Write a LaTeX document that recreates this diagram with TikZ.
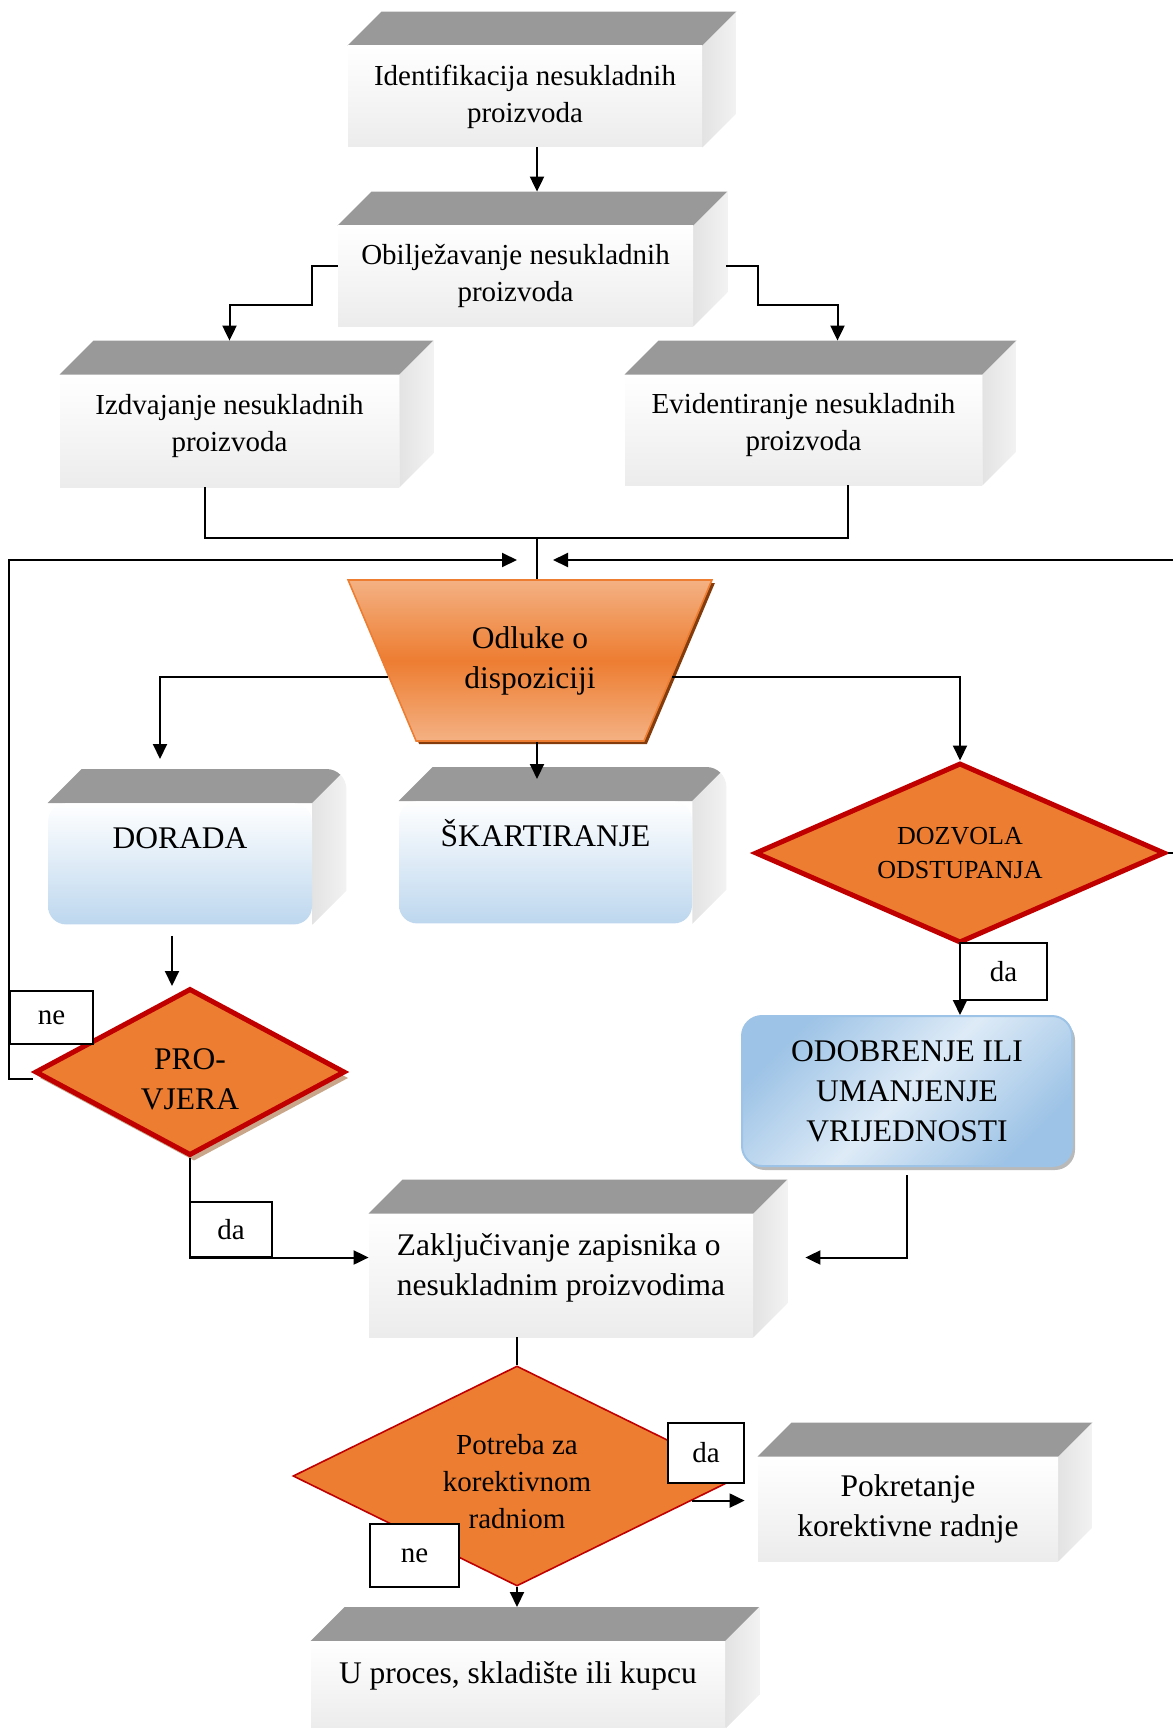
\documentclass[tikz,border=0pt]{standalone}
\usepackage{fontspec}
\setmainfont{Liberation Serif}
\usetikzlibrary{shapes.geometric,arrows.meta,shadows,backgrounds,calc}

\definecolor{narancasta}{HTML}{ED7D31}
\definecolor{svjnaranc}{HTML}{F4B183}
\definecolor{crvena}{HTML}{C00000}
\definecolor{smeda}{HTML}{843C0C}
\definecolor{bez}{HTML}{C9A68A}
\definecolor{krovsiva}{HTML}{999999}
\definecolor{svjplava}{HTML}{BDD7EE}
\definecolor{plava}{HTML}{9DC3E6}
\definecolor{blijedoplava}{HTML}{DEEBF7}

\newcommand{\manji}{\fontsize{14.5pt}{18.5pt}\selectfont}
\newcommand{\veci}{\fontsize{15.75pt}{20pt}\selectfont}
\newcommand{\sitni}{\fontsize{13pt}{17pt}\selectfont}

% gornja i bocna ploha kvadra (iza cvora #2), #1 = vanjski kut
\newcommand{\kvadar}[2][sharp corners]{%
	\begin{scope}[on background layer]
		\begin{scope}
			\clip [#1] ([yshift=17pt]#2.north west) rectangle ([xshift=17pt]#2.south east);
			\fill [krovsiva] (#2.north west) -- ++(34,-34) -- ([shift={(34,-34)}]#2.north east) -- (#2.north east) -- cycle;
			\shade [left color=gray!22,right color=gray!10] (#2.north east) -- ++(34,-34) -- ([shift={(34,-34)}]#2.south east) -- (#2.south east) -- cycle;
		\end{scope}
	\end{scope}
	\coordinate (#2-vrh) at ([yshift=17pt]#2.north);
}

\begin{document}
\begin{tikzpicture}[x=0.5pt,y=-0.5pt,
	prednja/.style={rectangle,inner sep=0pt,top color=white,bottom color=gray!15,align=center,font=\manji},
	plavi/.style={rectangle,rounded corners=9pt,inner sep=0pt,top color=white,bottom color=svjplava,font=\veci},
	romb/.style={diamond,inner sep=0pt,fill=narancasta,draw=crvena,align=center},
	oznaka/.style={rectangle,draw,fill=white,line width=0.8pt,inner sep=0pt,font=\manji},
	strelica/.style={-{Triangle[length=7.5pt,width=7pt]},line width=1pt},
	linija/.style={line width=1pt}]
		\useasboundingbox (0,0) rectangle (1172,1728);
		% Kvadri gore
		\node [prednja,minimum width=177pt,minimum height=50.5pt] (ident) at (525,96.5) {Identifikacija nesukladnih\\proizvoda};
		\kvadar{ident}
		\node [prednja,minimum width=177.5pt,minimum height=50pt] (obilj) at (515.5,276) {Obilježavanje nesukladnih\\proizvoda};
		\kvadar{obilj}
		\node [prednja,minimum width=169.5pt,minimum height=56pt] (izdv) at (229.5,431) {Izdvajanje nesukladnih\\proizvoda\\[-10pt]};
		\kvadar{izdv}
		\node [prednja,minimum width=178.5pt,minimum height=55pt] (evid) at (803.5,430) {Evidentiranje nesukladnih\\proizvoda\\[-10pt]};
		\kvadar{evid}
		% Odluke
		\node [trapezium,trapezium left angle=119.75,trapezium right angle=119.75,trapezium stretches=true,
			minimum width=182pt,minimum height=80.5pt,inner sep=0pt,
			top color=svjnaranc,bottom color=svjnaranc,middle color=narancasta,draw=narancasta,line width=0.8pt,
			drop shadow={shadow xshift=1.5pt,shadow yshift=-1.5pt,fill=smeda,opacity=1},
			align=center,font=\veci] (odluke) at (530,660.5) {Odluke o\\dispoziciji};
		% Dorada, skartiranje
		\node [plavi,anchor=north,minimum width=132pt,text height=22.5pt,text depth=38pt] (dorada) at (180,803) {DORADA};
		\kvadar[rounded corners=10pt]{dorada}
		\node [plavi,anchor=north,minimum width=146.5pt,text height=22.5pt,text depth=38.5pt] (skart) at (545.5,801) {ŠKARTIRANJE};
		\kvadar[rounded corners=10pt]{skart}
		% Rombovi
		\node [romb,minimum width=205pt,minimum height=90pt,shape aspect=2.28,line width=2.5pt,font=\sitni] (dozv) at (960,853) {DOZVOLA\\ODSTUPANJA};
		\node [romb,minimum width=155pt,minimum height=83.5pt,shape aspect=1.86,line width=2.5pt,font=\veci,
			drop shadow={shadow xshift=2pt,shadow yshift=-3pt,fill=bez,opacity=1}] (provj) at (190,1072) {\\[-2.7pt]PRO-\\VJERA};
		% Odobrenje
		\node [rectangle,rounded corners=10pt,minimum width=165pt,minimum height=75pt,inner sep=0pt,
			top color=plava,bottom color=plava,middle color=blijedoplava,shading angle=45,draw=plava,line width=1pt,
			drop shadow={shadow xshift=1.5pt,shadow yshift=-2pt,fill=gray!55,opacity=1},
			align=center,font=\veci] (odob) at (907,1091) {ODOBRENJE ILI\\UMANJENJE\\VRIJEDNOSTI};
		% Zapisnik i dalje
		\node [prednja,font=\veci,align=left,minimum width=192pt,minimum height=61.5pt] (zaklj) at (561,1275.5) {Zaključivanje zapisnika o\\nesukladnim proizvodima\\[-9pt]};
		\kvadar{zaklj}
		\node [romb,minimum width=224pt,minimum height=110pt,shape aspect=2.04,line width=0.8pt,font=\manji] (potr) at (517,1476) {\\[-3pt]Potreba za\\korektivnom\\radniom};
		\node [prednja,font=\veci,minimum width=150pt,minimum height=52pt] (pokret) at (908,1509) {Pokretanje\\korektivne radnje};
		\kvadar{pokret}
		\node [prednja,font=\veci,anchor=north,minimum width=207pt,text height=21pt,text depth=22.5pt] (uproc) at (518,1641) {U proces, skladište ili kupcu};
		\kvadar{uproc}
		% Oznake da/ne
		\node [oznaka,minimum width=41.5pt,minimum height=26.5pt] (ne1) at (51.5,1017.5) {ne};
		\node [oznaka,minimum width=43.5pt,minimum height=28.5pt] (da1) at (1003.5,971.5) {da};
		\node [oznaka,minimum width=41pt,minimum height=27.5pt] (da2) at (231,1229.5) {da};
		\node [oznaka,minimum width=38pt,minimum height=30pt] (da3) at (706,1453) {da};
		\node [oznaka,minimum width=44.5pt,minimum height=31.5pt] (ne2) at (414.5,1555.5) {ne};
		%%%% Veze
		\coordinate (spoj) at (537,538);
		\coordinate (ulazL) at (517,560);
		\coordinate (ulazD) at (553,560);
		\draw [strelica] ([xshift=6pt]ident.south) -- ([xshift=6pt]ident.south |- obilj-vrh);
		\draw [strelica] ([yshift=5pt]obilj.west) -- ++(-26,0) -- ++(0,39) -| (izdv-vrh);
		\draw [strelica] ([xshift=16.5pt,yshift=5pt]obilj.east) -- ++(32,0) -- ++(0,39) -| ([xshift=17pt]evid-vrh);
		\draw [linija] ([xshift=-12.5pt]izdv.south) |- (spoj) -| ([xshift=22pt]evid.south);
		\draw [linija] (spoj) -- (spoj |- odluke.north);
		% povratne veze
		\draw [strelica] ([yshift=-3.5pt]provj.west) -- ([yshift=-3.5pt]provj.west -| ne1.west) |- (ulazL);
		\draw [strelica] (dozv.east) -- ++(8,0) |- (ulazD);
		% grane odluka
		\draw [strelica] ($(odluke.top left corner)!0.6!(odluke.bottom left corner)$) -| ([xshift=-10pt,yshift=5pt]dorada-vrh);
		\draw [strelica] ($(odluke.top right corner)!0.6!(odluke.bottom right corner)$) -| (dozv.north);
		\draw [strelica,shorten >=-6pt] ([xshift=3.5pt]odluke.south) -- ([xshift=3.5pt]odluke.south |- skart-vrh);
		\draw [strelica] ([xshift=-4pt,yshift=-5.5pt]dorada.south) -- ([xshift=-4pt]dorada.south |- provj.north);
		\draw [strelica] (dozv.south) -- (dozv.south |- odob.north);
		% prema zapisniku
		\draw [strelica] (provj.south) |- ([yshift=9pt]zaklj.west);
		\draw [strelica] ([yshift=-4pt]odob.south) |- ([xshift=26pt,yshift=9pt]zaklj.east);
		\draw [linija] (potr.north |- zaklj.south) -- (potr.north);
		\draw [strelica] (potr.south) -- (potr.south |- uproc-vrh);
		\draw [strelica,shorten >=6.5pt] (potr.-8) -- (potr.-8 -| pokret.west);
\end{tikzpicture}
\end{document}
